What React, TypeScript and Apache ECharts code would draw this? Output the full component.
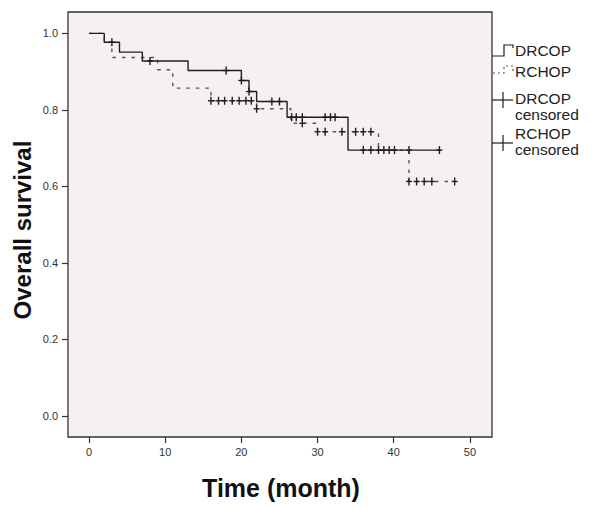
import React, { useEffect, useRef } from 'react';
import * as echarts from 'echarts';

const seriesNames = ['DRCOP', 'RCHOP'];
const legendLabels = ['DRCOP', 'RCHOP', 'DRCOP\ncensored', 'RCHOP\ncensored'];
const timeTicks = [0, 10, 20, 30, 40, 50];
const survivalTicks = [0, 0.2, 0.4, 0.6, 0.8, 1.0];

const drcopTime = [0, 2, 4, 7, 13, 20, 21, 22, 26, 34, 46];
const drcopSurv = [1, 0.977, 0.951, 0.928, 0.903, 0.877, 0.848, 0.822, 0.781, 0.695, 0.695];

const rchopTime = [0, 2, 3, 9, 11, 16, 22, 26.5, 30, 38, 42, 48];
const rchopSurv = [1, 0.977, 0.937, 0.905, 0.857, 0.824, 0.803, 0.765, 0.743, 0.695, 0.613, 0.613];

const drcopCensorTime = [3, 8, 18, 20, 21, 24, 25, 26.6, 27.2, 28, 31, 31.7, 32.3, 36, 37, 38, 38.7, 39.4, 40.1, 42, 46];
const drcopCensorSurv = [0.977, 0.928, 0.903, 0.877, 0.848, 0.822, 0.822, 0.781, 0.781, 0.781, 0.781, 0.781, 0.781, 0.695, 0.695, 0.695, 0.695, 0.695, 0.695, 0.695, 0.695];

const rchopCensorTime = [16, 17, 17.8, 18.8, 19.7, 20.6, 21.3, 22, 28, 30, 31, 33.2, 35, 36, 37, 42, 43, 44, 45, 48];
const rchopCensorSurv = [0.824, 0.824, 0.824, 0.824, 0.824, 0.824, 0.824, 0.803, 0.765, 0.743, 0.743, 0.743, 0.743, 0.743, 0.743, 0.613, 0.613, 0.613, 0.613, 0.613];

const FONT = '"Liberation Sans", Arial, sans-serif';
const INK = '#1e1e1e';

function censorSeries(name: string, times: number[], survs: number[]) {
  return {
    type: 'custom',
    name,
    data: times.map((t, i) => [t, survs[i]]),
    encode: { x: 0, y: 1 },
    z: 4,
    renderItem: (params: any, api: any) => {
      const p = api.coord([api.value(0), api.value(1)]);
      return {
        type: 'group',
        children: [
          { type: 'line', shape: { x1: p[0] - 3, y1: p[1], x2: p[0] + 3, y2: p[1] }, style: { stroke: INK, lineWidth: 1.4 } },
          { type: 'line', shape: { x1: p[0], y1: p[1] - 4, x2: p[0], y2: p[1] + 4 }, style: { stroke: INK, lineWidth: 1.4 } },
        ],
      };
    },
  };
}

export default function App() {
  const ref = useRef<HTMLDivElement>(null);
  useEffect(() => {
    document.body.style.margin = '0';
    if (!ref.current) return;
    const chart = echarts.init(ref.current, null, { renderer: 'svg' });
    const legendX = 515;
    const option: any = {
      animation: false,
      backgroundColor: '#ffffff',
      grid: {
        left: 68, top: 12, right: 108, bottom: 72,
        show: true, backgroundColor: '#f5f0f3', borderColor: '#333', borderWidth: 1.3,
      },
      xAxis: {
        type: 'value', min: -2.76, max: 52.9,
        splitLine: { show: false },
        axisLine: { show: false, onZero: false },
        axisTick: { show: true, customValues: timeTicks, length: 6, lineStyle: { color: '#333', width: 1.2 } },
        axisLabel: { customValues: timeTicks, margin: 9, color: '#333', fontSize: 11, fontFamily: FONT },
      },
      yAxis: {
        type: 'value', min: -0.055, max: 1.056,
        splitLine: { show: false },
        axisLine: { show: false, onZero: false },
        axisTick: { show: true, customValues: survivalTicks, length: 6, lineStyle: { color: '#333', width: 1.2 } },
        axisLabel: { customValues: survivalTicks, margin: 10, color: '#333', fontSize: 11, fontFamily: FONT, formatter: (v: number) => v.toFixed(1) },
      },
      series: [
        {
          type: 'line', name: seriesNames[0], step: 'end', symbol: 'none', z: 3,
          data: drcopTime.map((t, i) => [t, drcopSurv[i]]),
          lineStyle: { color: INK, width: 1.4 },
        },
        {
          type: 'line', name: seriesNames[1], step: 'end', symbol: 'none', z: 2,
          data: rchopTime.map((t, i) => [t, rchopSurv[i]]),
          lineStyle: { color: '#555', width: 1.4, type: [3.5, 6] },
        },
        censorSeries(legendLabels[2], drcopCensorTime, drcopCensorSurv),
        censorSeries(legendLabels[3], rchopCensorTime, rchopCensorSurv),
      ],
      graphic: [
        { type: 'polyline', shape: { points: [[492, 56], [504, 56], [504, 45], [513, 45], [513, 48]] }, style: { stroke: INK, lineWidth: 1.2, fill: null } },
        { type: 'polyline', shape: { points: [[493, 73], [504, 73], [504, 66], [513, 66], [513, 71]] }, style: { stroke: '#555', lineWidth: 1.2, lineDash: [2, 3], fill: null } },
        { type: 'line', shape: { x1: 492, y1: 100, x2: 513, y2: 100 }, style: { stroke: INK, lineWidth: 1.2 } },
        { type: 'line', shape: { x1: 503, y1: 92, x2: 503, y2: 108 }, style: { stroke: INK, lineWidth: 1.2 } },
        { type: 'line', shape: { x1: 492, y1: 143, x2: 513, y2: 143 }, style: { stroke: INK, lineWidth: 1.2 } },
        { type: 'line', shape: { x1: 503, y1: 135, x2: 503, y2: 151 }, style: { stroke: INK, lineWidth: 1.2 } },
        { type: 'text', x: legendX, y: 50, style: { text: legendLabels[0], font: `15.5px ${FONT}`, fill: '#222', verticalAlign: 'middle' } },
        { type: 'text', x: legendX, y: 71.5, style: { text: legendLabels[1], font: `15.5px ${FONT}`, fill: '#222', verticalAlign: 'middle' } },
        { type: 'text', x: legendX, y: 106, style: { text: legendLabels[2], font: `15.5px ${FONT}`, fill: '#222', verticalAlign: 'middle', lineHeight: 16 } },
        { type: 'text', x: legendX, y: 141, style: { text: legendLabels[3], font: `15.5px ${FONT}`, fill: '#222', verticalAlign: 'middle', lineHeight: 16 } },
        { type: 'text', x: 281, y: 488, style: { text: 'Time (month)', font: `bold 25px ${FONT}`, fill: '#111', align: 'center', verticalAlign: 'middle' } },
        { type: 'text', x: 22, y: 230, rotation: Math.PI / 2, style: { text: 'Overall survival', font: `bold 24px ${FONT}`, fill: '#111', align: 'center', verticalAlign: 'middle' } },
      ],
    };
    chart.setOption(option);
    return () => chart.dispose();
  }, []);
  return <div ref={ref} style={{ width: 600, height: 509 }} />;
}
